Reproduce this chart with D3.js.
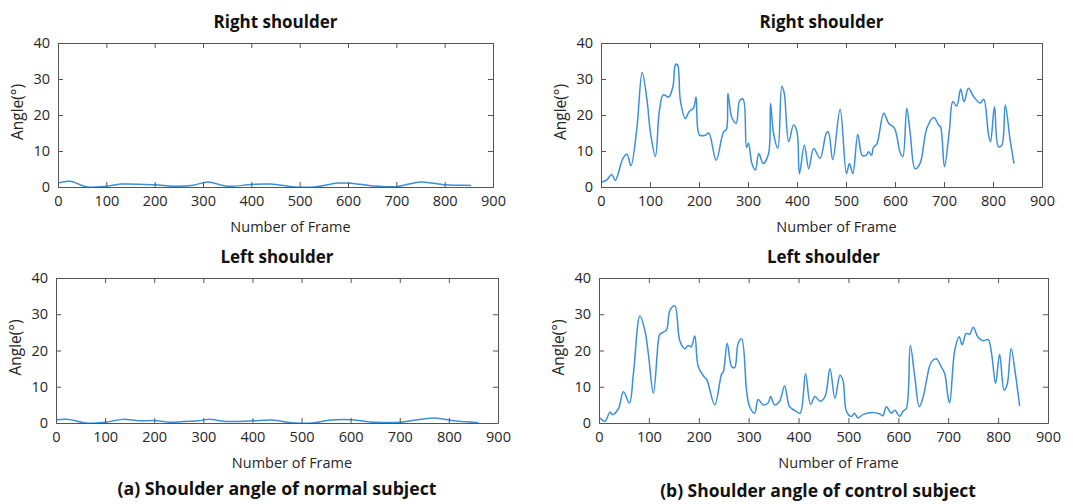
<!DOCTYPE html>
<html>
<head>
<meta charset="utf-8">
<script src="https://cdn.jsdelivr.net/npm/d3@7"></script>
<style>
  body { margin: 0; background: #fff; }
  text { font-family: "Open Sans", "Noto Sans", sans-serif; }
</style>
</head>
<body>
<script>
// shoulder angle data (frame, angle in degrees)
var normalRightFrames = [0, 25, 60, 100, 130, 200, 240, 280, 310, 350, 400, 440, 490, 530, 580, 610, 650, 700, 750, 800, 830, 855];
var normalRightAngles = [1.1, 1.6, 0, 0.2, 0.8, 0.6, 0.2, 0.5, 1.4, 0.2, 0.7, 0.8, 0, 0, 1.1, 1.0, 0.3, 0.1, 1.4, 0.6, 0.5, 0.4];

var normalLeftFrames = [0, 25, 60, 100, 135, 170, 200, 230, 260, 290, 310, 350, 400, 440, 480, 520, 560, 600, 640, 700, 770, 810, 860];
var normalLeftAngles = [0.9, 1.0, 0, 0.2, 1.0, 0.6, 0.7, 0.2, 0.4, 0.6, 1.0, 0.4, 0.6, 0.8, 0.1, 0, 0.8, 0.9, 0.3, 0.2, 1.4, 0.6, 0.1];

var controlRightFrames = [2, 12, 22, 29, 45, 53, 61, 73, 84, 94, 101, 111, 119, 127, 138, 147, 152, 156, 162, 172, 180, 189, 194, 201, 213, 220, 235, 250, 256, 259, 267, 276, 283, 290, 297, 301, 308, 315, 322, 331, 342, 346, 352, 361, 369, 374, 383, 393, 400, 405, 415, 424, 434, 447, 460, 464, 473, 488, 501, 507, 514, 524, 533, 541, 546, 552, 556, 563, 577, 587, 599, 610, 616, 624, 631, 641, 651, 665, 679, 689, 693, 701, 711, 718, 726, 734, 741, 750, 761, 774, 781, 791, 795, 803, 811, 818, 825, 835, 843];
var controlRightAngles = [1.4, 2.0, 3.5, 1.8, 8, 9.1, 5.9, 16, 31.8, 24, 15, 8.5, 21, 25.6, 25, 28, 34, 34, 24, 19, 21, 22, 25, 14.4, 14.4, 15, 7.4, 15.3, 16, 26, 19.3, 17.7, 24, 24.4, 11, 12.2, 6.5, 4.7, 9.3, 6.5, 9.3, 23.2, 15, 10.7, 28, 26, 12.6, 17.2, 15.3, 3.7, 11.6, 5.1, 10.7, 8, 15, 15.3, 7.6, 21.6, 3.7, 6.5, 3.7, 14.6, 8.8, 8.8, 9.8, 8.8, 11, 12, 20.5, 17.7, 16.3, 9.8, 8.4, 21.9, 15, 5.1, 6.5, 16.3, 19.3, 17.2, 16.7, 5.6, 15.8, 23.7, 22.5, 27.2, 23.7, 27.4, 25, 23.3, 24.4, 14.4, 12.6, 22.3, 11.2, 11.6, 22.8, 13, 6.5];

var controlLeftFrames = [2, 12, 22, 27, 39, 49, 61, 69, 82, 92, 99, 109, 119, 122, 135, 142, 152, 162, 172, 179, 185, 192, 199, 211, 216, 232, 246, 249, 257, 266, 272, 279, 286, 296, 302, 312, 319, 329, 339, 344, 352, 362, 372, 382, 392, 403, 414, 424, 433, 443, 453, 463, 473, 483, 489, 496, 506, 512, 519, 529, 549, 563, 569, 576, 586, 593, 603, 609, 616, 624, 633, 642, 650, 656, 666, 676, 686, 693, 700, 703, 713, 722, 728, 736, 743, 750, 760, 770, 780, 787, 795, 803, 812, 818, 826, 835, 843];
var controlLeftAngles = [1.4, 0.5, 3, 2.3, 4, 8.6, 5.5, 13.6, 29.5, 25.5, 19, 8.2, 22.7, 24.5, 25.6, 31, 32.3, 22.7, 20.5, 21.4, 21, 24, 15.5, 12.7, 12, 5, 13.6, 14, 22, 15.5, 15.3, 22, 23.2, 8.6, 4.5, 2.7, 6.5, 5, 5.5, 7.3, 5, 6, 10.2, 4.5, 3.5, 2.7, 13.6, 5.2, 7.3, 6, 7.3, 15, 6.8, 13.2, 11.8, 3.2, 1.8, 2.7, 1.4, 2.3, 2.9, 2.5, 2, 4.5, 2.7, 3.5, 1.8, 3.2, 4, 21.4, 12.7, 4.5, 7.3, 11.4, 16.8, 17.7, 15.5, 13.6, 6.8, 5.6, 20, 23.8, 21.6, 24.7, 24.5, 26.4, 23.6, 22.7, 23, 19, 10.9, 19, 9.1, 10.5, 20.5, 13.2, 4.7];

var xTicks = [0, 100, 200, 300, 400, 500, 600, 700, 800, 900];
var yTicks = [0, 10, 20, 30, 40];

var WIDTH = 1073;
var HEIGHT = 504;
var LINE_COLOR = '#3b8fdb';
var AXIS_COLOR = '#555';
var TEXT_COLOR = '#262626';

var svg = d3.select('body')
  .append('svg')
  .attr('width', WIDTH)
  .attr('height', HEIGHT);

// plot boxes (left, right, top, bottom)
var panels = [
  {title: 'Right shoulder', frames: normalRightFrames, angles: normalRightAngles, box: [58, 493, 43, 187]},
  {title: 'Right shoulder', frames: controlRightFrames, angles: controlRightAngles, box: [601, 1042, 43, 187]},
  {title: 'Left shoulder', frames: normalLeftFrames, angles: normalLeftAngles, box: [56, 498, 278, 423]},
  {title: 'Left shoulder', frames: controlLeftFrames, angles: controlLeftAngles, box: [599, 1048, 278, 423]}
];

panels.forEach(function(p, k) {
  var l = p.box[0], r = p.box[1], t = p.box[2], b = p.box[3];
  var x = d3.scaleLinear().domain([0, 900]).range([l, r]);
  var y = d3.scaleLinear().domain([0, 40]).range([b, t]);
  var g = svg.append('g');

  g.append('clipPath').attr('id', 'clip' + k)
    .append('rect')
    .attr('x', l).attr('y', t - 2)
    .attr('width', r - l).attr('height', b - t + 2);

  // line
  var pts = p.frames.map(function(f, i) { return [f, p.angles[i]]; });
  var line = d3.line()
    .x(function(d) { return x(d[0]); })
    .y(function(d) { return y(d[1]); })
    .curve(d3.curveCatmullRom.alpha(0.5));
  g.append('path')
    .datum(pts)
    .attr('d', line)
    .attr('clip-path', 'url(#clip' + k + ')')
    .attr('fill', 'none')
    .attr('stroke', LINE_COLOR)
    .attr('stroke-width', 1.5);

  // axes with inward ticks, MATLAB-style box
  var bottom = g.append('g').attr('transform', 'translate(0,' + b + ')')
    .call(d3.axisBottom(x).tickValues(xTicks).tickSizeInner(-5).tickSizeOuter(0).tickPadding(9));
  var left = g.append('g').attr('transform', 'translate(' + l + ',0)')
    .call(d3.axisLeft(y).tickValues(yTicks).tickSizeInner(-5).tickSizeOuter(0).tickPadding(8));
  var top = g.append('g').attr('transform', 'translate(0,' + t + ')')
    .call(d3.axisTop(x).tickValues(xTicks).tickSizeInner(-5).tickSizeOuter(0).tickFormat(''));
  var right = g.append('g').attr('transform', 'translate(' + r + ',0)')
    .call(d3.axisRight(y).tickValues(yTicks).tickSizeInner(-5).tickSizeOuter(0).tickFormat(''));

  [bottom, left, top, right].forEach(function(a) {
    a.selectAll('path').attr('stroke', AXIS_COLOR).attr('stroke-width', 1);
    a.selectAll('line').attr('stroke', AXIS_COLOR);
    a.selectAll('text')
      .attr('fill', TEXT_COLOR)
      .style('font-size', '14.5px');
  });

  g.append('text')
    .attr('x', (l + r) / 2)
    .attr('y', t - 15)
    .attr('text-anchor', 'middle')
    .style('font-size', '17px')
    .style('font-weight', 'bold')
    .attr('fill', '#111')
    .text(p.title);

  // the x label sits a bit right of the box centre in the original
  g.append('text')
    .attr('x', (l + r) / 2 + 15)
    .attr('y', b + 45)
    .attr('text-anchor', 'middle')
    .style('font-size', '14.5px')
    .attr('fill', TEXT_COLOR)
    .text('Number of Frame');

  g.append('text')
    .attr('transform', 'translate(' + (l - 35) + ',' + ((t + b) / 2 - 3) + ') rotate(-90)')
    .attr('text-anchor', 'middle')
    .style('font-size', '15.5px')
    .attr('fill', TEXT_COLOR)
    .text('Angle(°)');
});

svg.append('text')
  .attr('x', 277).attr('y', 495)
  .attr('text-anchor', 'middle')
  .style('font-size', '17.7px').style('font-weight', 'bold')
  .attr('fill', '#111')
  .text('(a) Shoulder angle of normal subject');

svg.append('text')
  .attr('x', 818).attr('y', 497)
  .attr('text-anchor', 'middle')
  .style('font-size', '17.5px').style('font-weight', 'bold')
  .attr('fill', '#111')
  .text('(b) Shoulder angle of control subject');
</script>
</body>
</html>
